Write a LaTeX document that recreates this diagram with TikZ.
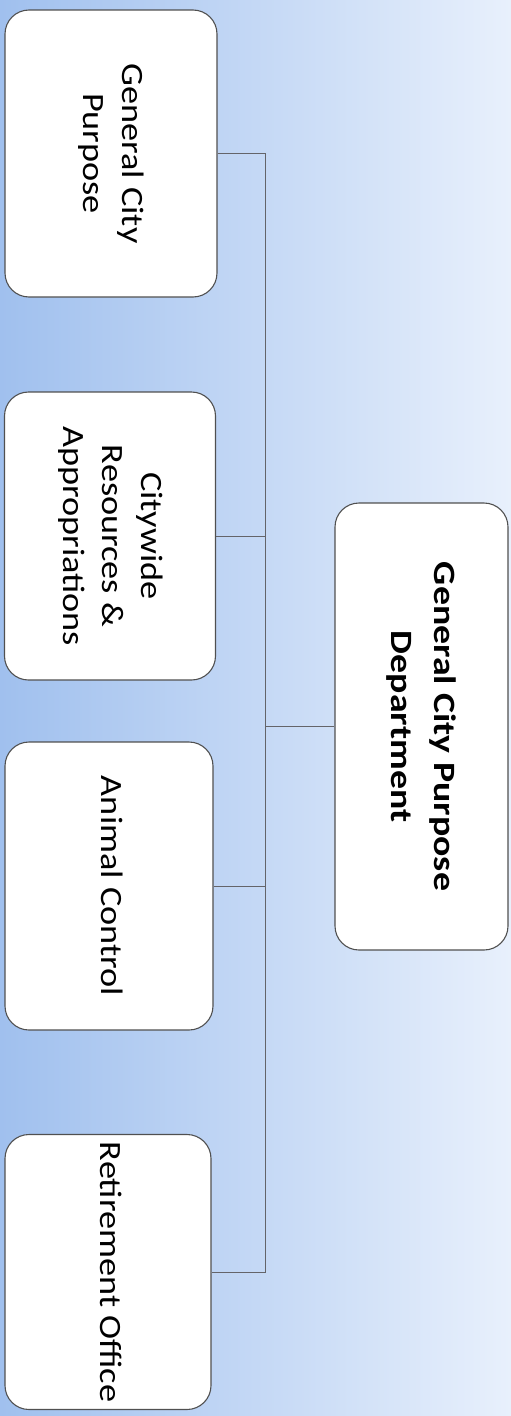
\documentclass[tikz,border=0pt]{standalone}
\usepackage{fontspec}
\setmainfont{Carlito}
\definecolor{bgleft}{RGB}{160,192,238}
\definecolor{bgright}{RGB}{232,240,252}
\definecolor{edge}{RGB}{80,80,80}
\definecolor{wire}{RGB}{100,100,105}
\tikzset{
  box/.style={draw=edge, line width=1.1pt, fill=white, rounded corners=24pt, inner sep=0pt, align=center},
  wireline/.style={draw=wire, line width=0.9pt},
  lbl/.style={font=\fontsize{31}{39}\selectfont}
}
\newcommand{\rtext}[2]{\rotatebox{-90}{\scalebox{#1}[1]{\begin{tabular}{@{}c@{}}#2\end{tabular}}}}
\begin{document}
\begin{tikzpicture}[x=1pt,y=1pt]
\shade[left color=bgleft, right color=bgright] (0,0) rectangle (511,-1416);
\useasboundingbox (0,0) rectangle (511,-1416);
\node[box, lbl, minimum width=212pt, minimum height=287pt] (c1) at (111,-153.5) {\rtext{1.17}{General City\\Purpose}};
\node[box, lbl, minimum width=211pt, minimum height=288pt] (c2) at (110,-536) {\rtext{1.17}{Citywide\\Resources \&\\Appropriations}};
\node[box, lbl, minimum width=208pt, minimum height=288pt] (c3) at (109,-886) {\rtext{1.17}{Animal Control}};
\node[box, lbl, minimum width=206pt, minimum height=275pt] (c4) at (108,-1272) {\rtext{1.17}{Retirement Office}};
\node[box, font=\fontsize{31}{43}\selectfont\bfseries, minimum width=173pt, minimum height=447pt] (m) at (421.5,-726.5) {\rtext{1.22}{General City Purpose\\Department}};
\coordinate (btop) at (265,-153.5);
\coordinate (bbot) at (265,-1272);
\coordinate (bmid) at (265,-726.5);
\draw[wireline] (c1.east) -- (btop) -- (bbot) -- (c4.east);
\draw[wireline] (c2.east) -- (c2.east -| btop);
\draw[wireline] (c3.east) -- (c3.east -| btop);
\draw[wireline] (bmid) -- (m.west);
\end{tikzpicture}
\end{document}
